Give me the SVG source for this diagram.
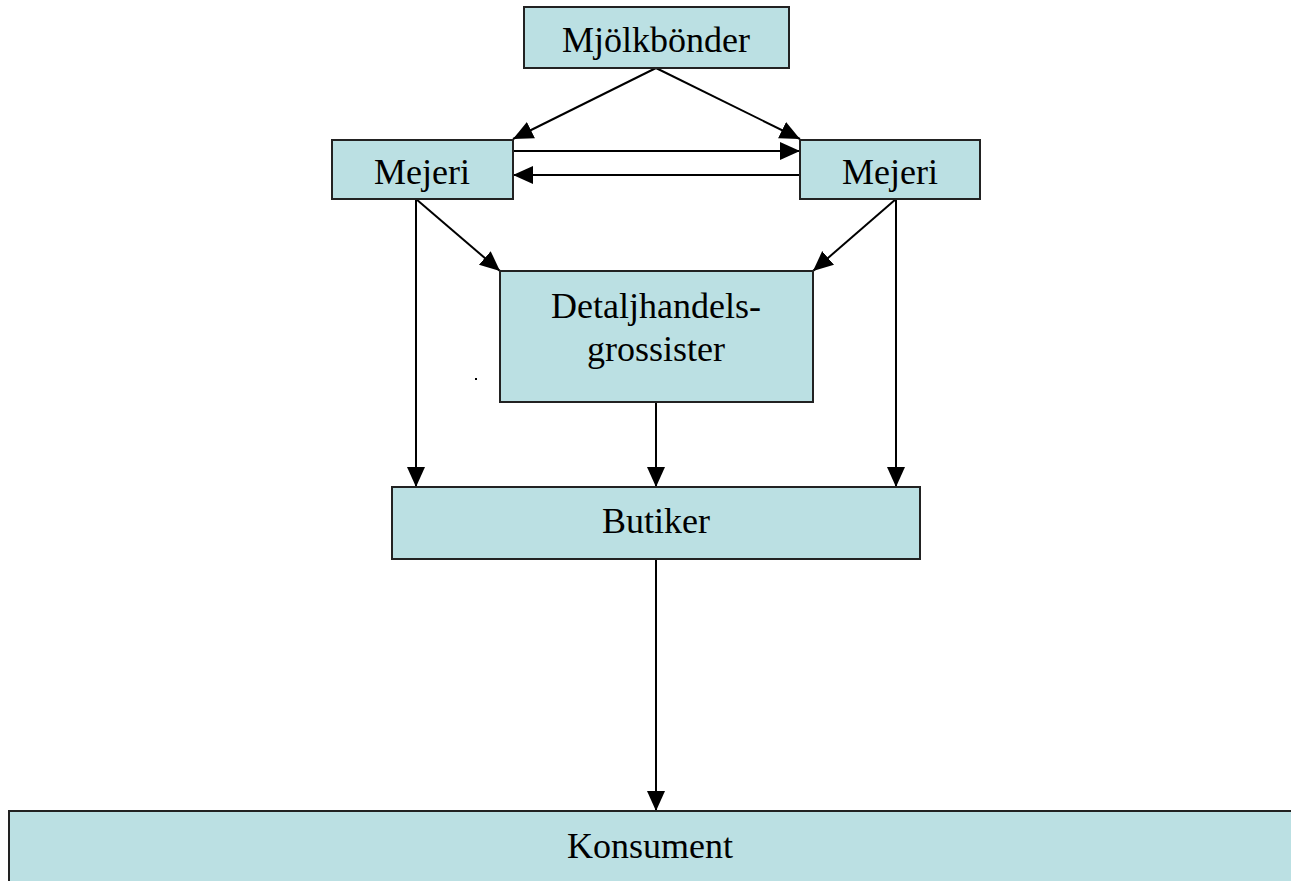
<svg xmlns="http://www.w3.org/2000/svg" width="1291" height="881" viewBox="0 0 1291 881">
  <style>
    .box { fill: #bbe0e3; stroke: #222; stroke-width: 2; }
    .lbl { font-family: "Liberation Serif", "Times New Roman", serif; font-size: 36px; fill: #000; text-anchor: middle; }
    .edge { stroke: #000; stroke-width: 2; fill: none; marker-end: url(#arrow); }
  </style>
  <defs>
    <marker id="arrow" viewBox="0 0 20 20" refX="20" refY="10" markerWidth="20" markerHeight="20" markerUnits="userSpaceOnUse" orient="auto">
      <path d="M0,1 L20,10 L0,19 Z" fill="#000"/>
    </marker>
  </defs>

  <rect width="1291" height="881" fill="#fff"/>

  <g id="connectors">
    <line class="edge" x1="656" y1="68" x2="513" y2="139"/>
    <line class="edge" x1="656" y1="68" x2="800" y2="139"/>
    <line class="edge" x1="513" y1="151" x2="800" y2="151"/>
    <line class="edge" x1="800" y1="175" x2="513" y2="175"/>
    <line class="edge" x1="416" y1="199" x2="500" y2="271"/>
    <line class="edge" x1="896" y1="199" x2="813" y2="271"/>
    <line class="edge" x1="416" y1="199" x2="416" y2="487"/>
    <line class="edge" x1="896" y1="199" x2="896" y2="487"/>
    <line class="edge" x1="656" y1="402" x2="656" y2="487"/>
    <line class="edge" x1="656" y1="559" x2="656" y2="811"/>
  </g>

  <g id="mjolkbonder">
    <rect class="box" x="524" y="7" width="265" height="61"/>
    <text class="lbl" x="656" y="52">Mjölkbönder</text>
  </g>

  <g id="mejeri-left">
    <rect class="box" x="332" y="140" width="181" height="59"/>
    <text class="lbl" x="422" y="184">Mejeri</text>
  </g>

  <g id="mejeri-right">
    <rect class="box" x="800" y="140" width="180" height="59"/>
    <text class="lbl" x="890" y="184">Mejeri</text>
  </g>

  <g id="detaljhandel">
    <rect class="box" x="500" y="271" width="313" height="131"/>
    <text class="lbl" x="656" y="318">Detaljhandels-</text>
    <text class="lbl" x="656" y="361">grossister</text>
  </g>

  <g id="butiker">
    <rect class="box" x="392" y="487" width="528" height="72"/>
    <text class="lbl" x="656" y="533">Butiker</text>
  </g>

  <g id="konsument">
    <rect class="box" x="9" y="811" width="1290" height="80"/>
    <text class="lbl" x="650" y="858">Konsument</text>
  </g>

  <rect x="475" y="378" width="2" height="2" fill="#000"/>
</svg>
